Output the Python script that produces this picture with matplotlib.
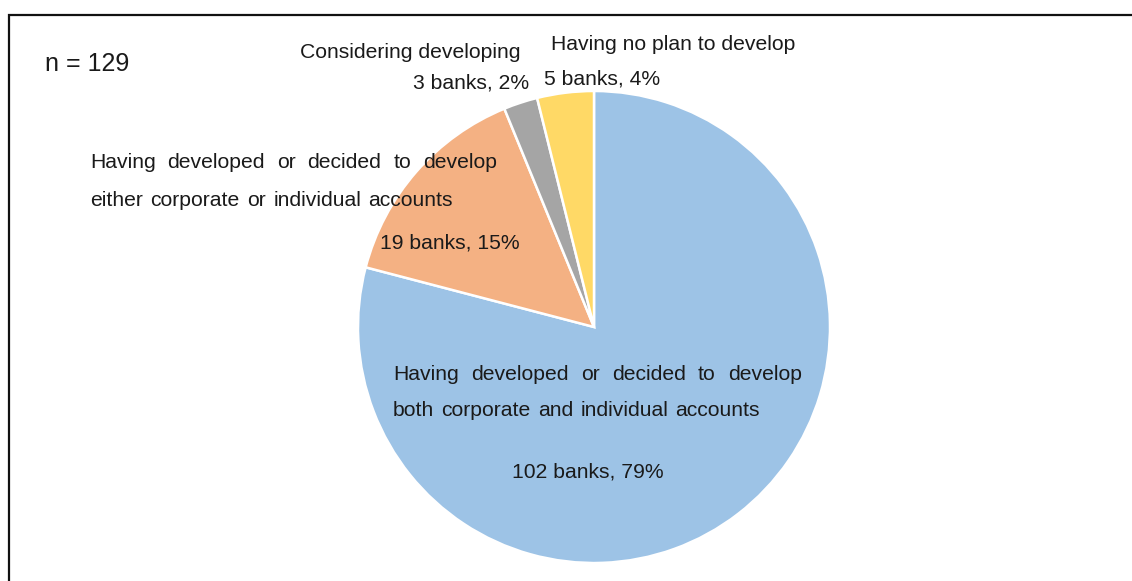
import matplotlib.pyplot as plt
import matplotlib.patches as patches

plt.rcParams['font.family'] = ['Liberation Sans', 'DejaVu Sans']

# survey answers, number of banks per answer
categories = [
    "Having developed or decided to develop\nboth corporate and individual accounts",
    "Having developed or decided to develop\neither corporate or individual accounts",
    "Considering developing",
    "Having no plan to develop",
]
banks = [102, 19, 3, 5]
colors = ['#9DC3E6', '#F4B183', '#A5A5A5', '#FFD966']
total = sum(banks)

W, H = 1132, 581
fig = plt.figure(figsize=(W / 100, H / 100), dpi=100)
ax = fig.add_axes([0, 0, 1, 1])


def Y(y):
    # pixel rows counted from the top
    return H - y


wedges, _ = ax.pie(banks, colors=colors, startangle=90, counterclock=False,
                   center=(594, Y(327)), radius=236,
                   wedgeprops=dict(edgecolor='white', linewidth=1.8))
ax.set_xlim(0, W)
ax.set_ylim(0, H)
ax.set_aspect('equal')
ax.axis('off')

# outer frame (only top and left edges fall inside the image)
frame = patches.Rectangle((9, Y(700)), 1300, 685, fill=False, edgecolor='#111111',
                          linewidth=1.6, clip_on=False)
ax.add_patch(frame)

tc = '#1a1a1a'
fs = 15.2
renderer = fig.canvas.get_renderer()


def justified(x, y, line, width):
    # spread the words of one line over the given width
    words = line.split()
    arts = [ax.text(0, 0, w, fontsize=fs, color=tc, ha='left', va='center') for w in words]
    widths = [a.get_window_extent(renderer).width for a in arts]
    gap = (width - sum(widths)) / (len(words) - 1)
    cx = x
    for a, w in zip(arts, widths):
        a.set_position((cx, Y(y)))
        cx += w + gap


def value_label(i):
    return f"{banks[i]} banks, {round(banks[i] / total * 100)}%"


ax.text(45, Y(64), f"n = {total}", fontsize=18, color=tc, ha='left', va='center')

# blue slice
l1, l2 = categories[0].split('\n')
justified(393, 375, l1, 409)
justified(393, 411, l2, 367)
ax.text(588, Y(472), value_label(0), fontsize=fs, color=tc, ha='center', va='center')

# orange slice
l1, l2 = categories[1].split('\n')
justified(90, 163, l1, 407)
justified(90, 200, l2, 363)
ax.text(450, Y(243), value_label(1), fontsize=fs, color=tc, ha='center', va='center')

# gray slice
ax.text(410, Y(52), categories[2], fontsize=fs, color=tc, ha='center', va='center')
ax.text(471, Y(83), value_label(2), fontsize=fs, color=tc, ha='center', va='center')

# yellow slice
ax.text(673, Y(45), categories[3], fontsize=fs, color=tc, ha='center', va='center')
ax.text(602, Y(79), value_label(3), fontsize=fs, color=tc, ha='center', va='center')

fig.savefig('out.png', dpi=100)
